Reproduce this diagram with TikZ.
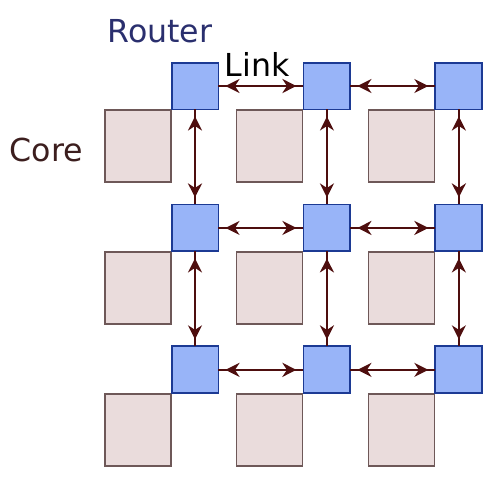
\documentclass[tikz,border=0pt]{standalone}
\usepackage{fontspec}
\setmainfont{DejaVu Sans}
\usetikzlibrary{positioning, arrows.meta}

\definecolor{routerfill}{HTML}{98B4F8}
\definecolor{routerline}{HTML}{1C3A94}
\definecolor{corefill}{HTML}{EADCDC}
\definecolor{coreline}{HTML}{6E5858}
\definecolor{linkline}{HTML}{4E0E0E}
\definecolor{routertext}{HTML}{2A2F6E}
\definecolor{coretext}{HTML}{3C1E1E}

\begin{document}
\begin{tikzpicture}[>={Stealth[length=8pt, width=8pt]}, node distance=1.7cm and 1.7cm,
  router/.style={draw=routerline, fill=routerfill, line width=1.1pt, minimum size=0.9cm, inner sep=0pt},
  core/.style={draw=coreline, fill=corefill, line width=0.9pt, minimum width=1.32cm, minimum height=1.44cm, inner sep=0pt},
  link/.style={draw=linkline, line width=1.1pt, postaction={draw=linkline, fill=linkline, <->, shorten <=4pt, shorten >=4pt}},
  label/.style={font=\fontsize{18}{20}\selectfont, inner sep=0pt}]
  \useasboundingbox (0,0) rectangle (9.9,-9.9);

  % Routers
  \node[router] (r11) at (3.9,-1.72) {};
  \node[router, right=1.7cm of r11] (r12) {};
  \node[router, right=1.7cm of r12] (r13) {};
  \node[router, below=1.9cm of r11] (r21) {};
  \node[router, right=1.7cm of r21] (r22) {};
  \node[router, right=1.7cm of r22] (r23) {};
  \node[router, below=1.9cm of r21] (r31) {};
  \node[router, right=1.7cm of r31] (r32) {};
  \node[router, right=1.7cm of r32] (r33) {};

  % Cores (below left of each router)
  \node[core, below left=0pt and 0pt of r11] (c11) {};
  \node[core, below left=0pt and 0pt of r12] (c12) {};
  \node[core, below left=0pt and 0pt of r13] (c13) {};
  \node[core, below left=0pt and 0pt of r21] (c21) {};
  \node[core, below left=0pt and 0pt of r22] (c22) {};
  \node[core, below left=0pt and 0pt of r23] (c23) {};
  \node[core, below left=0pt and 0pt of r31] (c31) {};
  \node[core, below left=0pt and 0pt of r32] (c32) {};
  \node[core, below left=0pt and 0pt of r33] (c33) {};

  % Redraw routers on top
  \foreach \r in {r11,r12,r13,r21,r22,r23,r31,r32,r33}
    \draw[draw=routerline, fill=routerfill, line width=1.1pt] (\r.south west) rectangle (\r.north east);

  % Labels
  \node[label, text=routertext] (lrouter) at (3.2,-0.62) {Router};
  \node[label, text=black] (llink) at (5.14,-1.28) {Link};
  \node[label, text=coretext] (lcore) at (0.93,-3.0) {Core};

  % Links
  \draw[link] (r11) -- (r12);
  \draw[link] (r12) -- (r13);
  \draw[link] (r21) -- (r22);
  \draw[link] (r22) -- (r23);
  \draw[link] (r31) -- (r32);
  \draw[link] (r32) -- (r33);
  \draw[link] (r11) -- (r21);
  \draw[link] (r21) -- (r31);
  \draw[link] (r12) -- (r22);
  \draw[link] (r22) -- (r32);
  \draw[link] (r13) -- (r23);
  \draw[link] (r23) -- (r33);
\end{tikzpicture}
\end{document}
